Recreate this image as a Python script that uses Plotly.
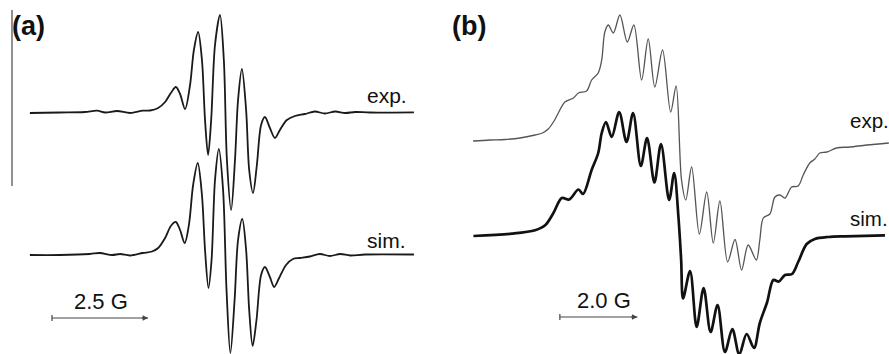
import plotly.graph_objects as go

# ---------------- Panel (a): field offset (G) and derivative intensity (a.u.)
a_exp_field = [-4.95, -4.17, -3.52, -3.20, -2.99, -2.68, -2.34, -2.01, -1.82, -1.61,
               -1.43, -1.28, -1.15, -1.04, -0.91, -0.78, -0.68, -0.57, -0.47, -0.39,
               -0.31, -0.23, -0.13, 0.00, 0.10, 0.18, 0.29, 0.39, 0.47, 0.57,
               0.68, 0.76, 0.86, 0.96, 1.07, 1.17, 1.30, 1.43, 1.56, 1.74,
               1.95, 2.21, 2.47, 2.73, 3.00, 3.26, 3.52, 3.91, 5.05]
a_exp_int = [0.0, 0.005, 0.01, 0.023, 0.005, 0.02, 0.0, 0.023, 0.025, 0.05,
             0.11, 0.20, 0.26, 0.19, 0.04, 0.28, 0.63, 0.81, 0.53, -0.07,
             -0.42, -0.07, 0.68, 0.98, 0.53, -0.47, -0.97, -0.47, 0.13, 0.44,
             0.03, -0.57, -0.80, -0.52, -0.12, -0.04, -0.15, -0.25, -0.17, -0.07,
             -0.03, -0.01, 0.015, -0.005, 0.015, 0.0, 0.01, 0.005, 0.007]

a_sim_field = [-4.95, -4.17, -3.39, -3.13, -2.81, -2.60, -2.34, -2.01, -1.77, -1.61,
               -1.43, -1.28, -1.15, -1.04, -0.92, -0.81, -0.70, -0.58, -0.47, -0.39,
               -0.30, -0.22, -0.13, -0.03, 0.08, 0.17, 0.27, 0.38, 0.47, 0.58,
               0.68, 0.76, 0.85, 0.95, 1.07, 1.17, 1.30, 1.41, 1.54, 1.72,
               1.90, 2.08, 2.34, 2.60, 2.86, 3.13, 3.39, 3.78, 5.05]
a_sim_int = [0.0, 0.0, 0.01, 0.02, 0.0, 0.01, -0.005, 0.02, 0.035, 0.07,
             0.17, 0.29, 0.33, 0.25, 0.12, 0.30, 0.70, 0.92, 0.60, 0.05,
             -0.33, -0.05, 0.75, 1.06, 0.65, -0.35, -0.98, -0.45, 0.15, 0.36,
             0.05, -0.55, -0.91, -0.65, -0.20, -0.12, -0.22, -0.32, -0.23, -0.10,
             -0.04, -0.03, -0.015, 0.01, -0.01, 0.01, -0.005, 0.005, 0.005]

# ---------------- Panel (b)
b_exp_field = [-5.34, -4.90, -4.52, -4.13, -3.74, -3.55, -3.40, -3.25, -3.14, -2.97,
               -2.75, -2.62, -2.41, -2.28, -2.11, -2.02, -1.94, -1.85, -1.72, -1.55,
               -1.36, -1.19, -0.99, -0.82, -0.65, -0.45, -0.24, -0.10, 0.04, 0.15,
               0.30, 0.50, 0.69, 0.86, 1.03, 1.23, 1.42, 1.59, 1.76, 1.97,
               2.06, 2.15, 2.32, 2.45, 2.58, 2.71, 2.88, 3.05, 3.18, 3.35,
               3.48, 3.61, 3.79, 4.04, 4.39, 4.82, 5.39]
b_exp_int = [0.0, 0.01, 0.015, 0.03, 0.06, 0.08, 0.12, 0.20, 0.28, 0.39,
             0.43, 0.48, 0.50, 0.61, 0.68, 0.81, 1.09, 1.16, 1.08, 1.26,
             0.99, 1.16, 0.61, 1.02, 0.54, 0.91, 0.29, 0.55, -0.39, -0.59,
             -0.26, -0.93, -0.51, -1.02, -0.60, -1.21, -0.985, -1.29, -1.04, -1.19,
             -0.99, -0.77, -0.73, -0.56, -0.54, -0.57, -0.46, -0.45, -0.34, -0.22,
             -0.18, -0.12, -0.11, -0.07, -0.06, -0.04, -0.02]

b_sim_field = [-5.33, -4.34, -3.74, -3.48, -3.27, -3.05, -2.86, -2.62, -2.50, -2.28,
               -2.11, -2.02, -1.91, -1.76, -1.57, -1.38, -1.21, -1.01, -0.85, -0.66,
               -0.49, -0.28, -0.15, -0.04, 0.03, 0.08, 0.26, 0.43, 0.61, 0.79,
               0.97, 1.16, 1.35, 1.53, 1.72, 1.91, 2.06, 2.25, 2.41, 2.55,
               2.71, 2.89, 3.05, 3.27, 3.48, 3.83, 4.26, 5.29]
b_sim_int = [0.0, 0.023, 0.057, 0.107, 0.227, 0.38, 0.365, 0.465, 0.42, 0.66,
             0.83, 1.03, 1.14, 0.99, 1.24, 0.94, 1.23, 0.70, 0.98, 0.535,
             0.92, 0.36, 0.63, 0.19, -0.24, -0.625, -0.35, -0.91, -0.52, -0.96,
             -0.69, -1.16, -0.93, -1.185, -0.98, -1.12, -0.87, -0.66, -0.44, -0.455,
             -0.39, -0.38, -0.26, -0.08, -0.03, -0.01, -0.003, 0.007]

# vertical stacking of the simulated traces below the experimental ones
A_SIM_OFFSET = -1.42
B_SIM_OFFSET = -0.95

SCALE_A = 2.5   # G
SCALE_B = 2.0   # G

W, H = 889, 354
FONT = "Liberation Sans, Arial, sans-serif"

fig = go.Figure()

def add_curve(x, y, offset, axis, color, width):
    fig.add_trace(go.Scatter(
        x=x, y=[v + offset for v in y], mode="lines",
        line=dict(color=color, width=width, shape="spline", smoothing=0.9),
        xaxis="x" if axis == 1 else "x2", yaxis="y" if axis == 1 else "y2",
        hoverinfo="skip", showlegend=False))

add_curve(a_exp_field, a_exp_int, 0.0, 1, "#1a1a1a", 1.8)
add_curve(a_sim_field, a_sim_int, A_SIM_OFFSET, 1, "#1a1a1a", 1.8)
add_curve(b_exp_field, b_exp_int, 0.0, 2, "#555555", 1.3)
add_curve(b_sim_field, b_sim_int, B_SIM_OFFSET, 2, "#111111", 2.7)

hidden = dict(visible=False, fixedrange=True)
fig.update_layout(
    width=W, height=H, margin=dict(l=0, r=0, t=0, b=0),
    paper_bgcolor="white", plot_bgcolor="white",
    xaxis=dict(domain=[0, 0.5], range=[-5.729, 5.846], **hidden),
    yaxis=dict(domain=[0, 1], range=[-2.41, 1.13], **hidden),
    xaxis2=dict(domain=[0.5, 1], range=[-6.077, 5.394], **hidden),
    yaxis2=dict(domain=[0, 1], range=[-2.13, 1.41], anchor="x2", **hidden),
)

# scale bars: horizontal line with a start tick and an end arrowhead
def scale_bar(x0, length, y, xref, yref, tick):
    fig.add_shape(type="line", x0=x0, x1=x0 + length, y0=y, y1=y,
                  xref=xref, yref=yref, line=dict(color="#444444", width=1.2))
    fig.add_shape(type="line", x0=x0, x1=x0, y0=y - tick, y1=y + tick,
                  xref=xref, yref=yref, line=dict(color="#444444", width=1.2))
    fig.add_annotation(x=x0 + length, y=y, ax=x0 + length - 0.2, ay=y,
                       xref=xref, yref=yref, axref=xref, ayref=yref, text="",
                       showarrow=True, arrowhead=2, arrowsize=0.9, arrowwidth=1.2,
                       arrowcolor="#444444")

scale_bar(-4.375, SCALE_A, -2.05, "x", "y", 0.03)
scale_bar(-3.10, SCALE_B, -1.76, "x2", "y2", 0.03)

def px(x):
    return x / W

def py(y):
    return 1 - y / H

def label(text, x, y, size, bold=False, anchor="left"):
    fig.add_annotation(x=px(x), y=py(y), xref="paper", yref="paper",
                       text=f"<b>{text}</b>" if bold else text, showarrow=False,
                       xanchor=anchor, yanchor="middle",
                       font=dict(family=FONT, size=size, color="#111111"))

label("(a)", 10, 26, 27, bold=True)
label("(b)", 450, 26, 27, bold=True)
label("exp.", 365, 96, 21)
label("sim.", 365, 240, 21)
label("2.5 G", 72, 301, 22)
label("exp.", 848, 120, 20.5)
label("sim.", 848, 218, 20.5)
label("2.0 G", 575, 300, 22)

# thin vertical rule beside panel (a)
fig.add_shape(type="line", x0=px(12), x1=px(12), y0=py(10), y1=py(186),
              xref="paper", yref="paper", line=dict(color="#222222", width=1))

fig.write_html("out.html")
